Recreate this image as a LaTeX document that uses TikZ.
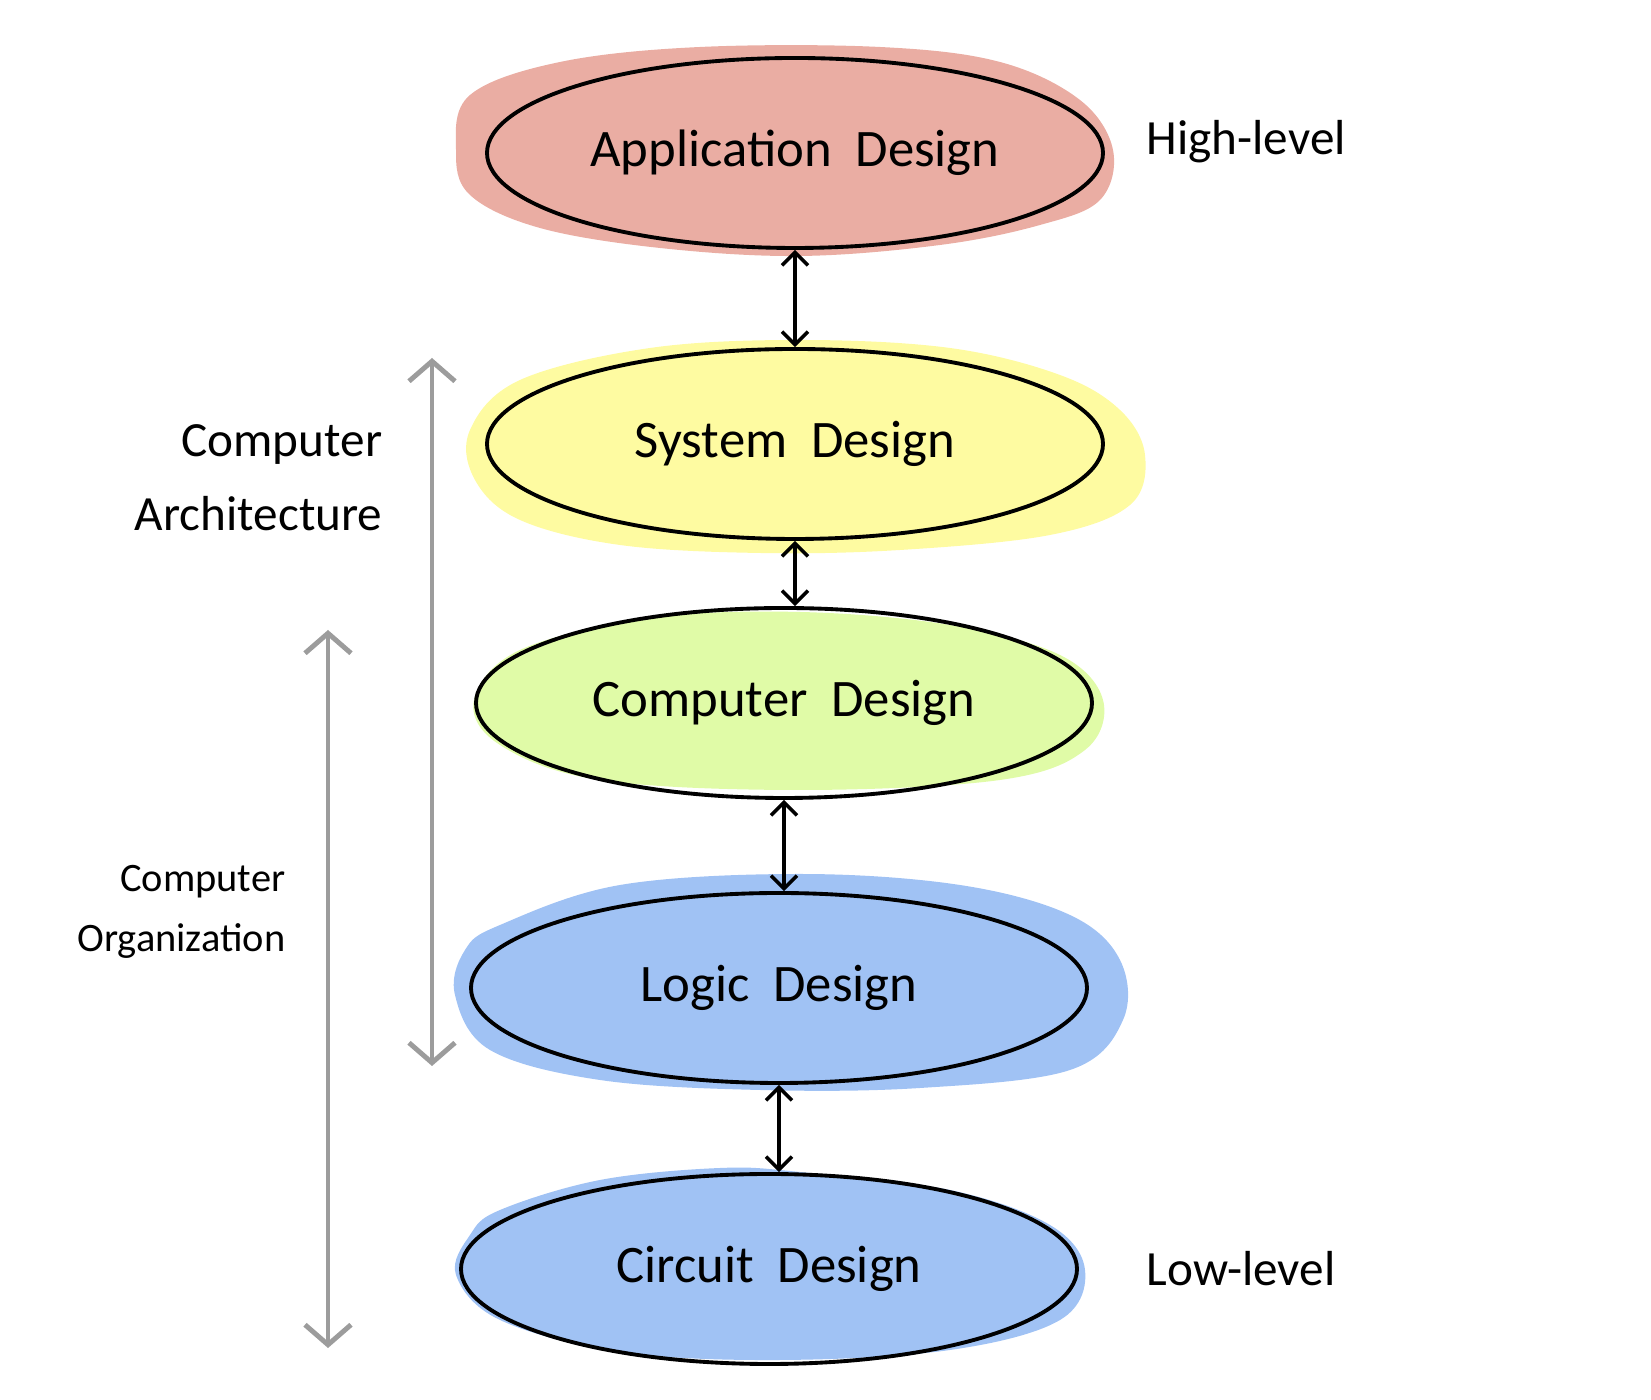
\documentclass[tikz,border=0pt]{standalone}
\usepackage{fontspec}
\setmainfont{Carlito}
\usetikzlibrary{shapes.geometric,arrows.meta}

\definecolor{salmon}{HTML}{EAADA3}
\definecolor{lemon}{HTML}{FEFBA1}
\definecolor{lime}{HTML}{E0FBA7}
\definecolor{sky}{HTML}{A0C2F4}
\definecolor{arrgray}{HTML}{9C9C9C}

\newcommand{\en}{\node[ellipse, draw, line width=1.1pt, minimum width=6.16cm, minimum height=1.9cm, inner sep=0pt, font=\fontsize{15}{18}\selectfont]}
\newcommand{\sn}{\node[inner sep=0pt, font=\fontsize{14}{21}\selectfont]}
\newcommand{\blob}[2]{\fill[#1] plot[smooth cycle, tension=0.6] coordinates {#2};}

\begin{document}
\begin{tikzpicture}[
    blk/.style={{Straight Barb[length=1.3mm,width=2.6mm]}-{Straight Barb[length=1.3mm,width=2.6mm]}, line width=1pt},
    gry/.style={{Straight Barb[length=2mm,width=4.6mm]}-{Straight Barb[length=2mm,width=4.6mm]}, line width=1.4pt, draw=arrgray}
  ]
            \useasboundingbox (0,0) rectangle (16.51,14);

            % colour patches behind the ellipses
            \blob{salmon}{(4.70,13.05) (5.60,13.38) (7.00,13.53) (8.80,13.53) (10.00,13.38) (10.80,13.00) (11.13,12.50) (11.00,12.00) (10.40,11.75) (9.40,11.55) (8.00,11.44) (6.60,11.52) (5.40,11.72) (4.70,12.05) (4.56,12.50)}
            \blob{lemon}{(5.20,10.20) (6.50,10.52) (8.00,10.60) (9.50,10.52) (10.60,10.25) (11.20,9.90) (11.45,9.45) (11.30,8.95) (10.50,8.65) (9.00,8.50) (7.60,8.47) (6.20,8.55) (5.20,8.80) (4.75,9.20) (4.70,9.70)}
            \blob{lime}{(5.20,7.50) (6.50,7.82) (8.00,7.88) (9.50,7.75) (10.60,7.45) (11.03,7.00) (10.85,6.50) (10.00,6.20) (8.00,6.10) (6.00,6.20) (5.00,6.55) (4.74,7.00)}
            \blob{sky}{(5.00,4.75) (6.20,5.15) (8.00,5.26) (9.60,5.15) (10.70,4.85) (11.20,4.40) (11.23,3.80) (10.70,3.30) (9.20,3.12) (7.60,3.10) (6.00,3.20) (4.90,3.50) (4.55,4.05) (4.65,4.50)}
            \blob{sky}{(5.00,1.90) (6.00,2.20) (7.20,2.32) (8.00,2.28) (9.50,2.10) (10.50,1.75) (10.85,1.30) (10.60,0.80) (9.50,0.50) (7.80,0.40) (6.20,0.48) (5.00,0.80) (4.56,1.25) (4.70,1.65)}

            \en (e1) at (7.95, 12.47) {Application\ \ Design};
            \en (e2) at (7.95, 9.56) {System\ \ Design};
            \en (e3) at (7.84, 6.97) {Computer\ \ Design};
            \en (e4) at (7.79, 4.12) {Logic\ \ Design};
            \en (e5) at (7.69, 1.31) {Circuit\ \ Design};

            \sn[anchor=west] (hi) at (11.46, 12.58) {High-level};
            \sn[anchor=west] (lo) at (11.46, 1.31) {Low-level};
            \sn[anchor=east, align=right] (arch) at (3.83, 9.22) {Computer\\Architecture};
            \sn[anchor=east, align=right, font=\fontsize{11.5}{17}\selectfont] (org) at (2.86, 4.88) {Computer\\Organization};

            \coordinate (archtop) at (4.32, 10.42);
            \coordinate (archbot) at (4.32, 3.34);
            \coordinate (orgtop) at (3.28, 7.70);
            \coordinate (orgbot) at (3.28, 0.52);

            \draw[blk] (e1.south) -- (e2.north);
            \draw[blk] (e2.south) -- (e2.south |- e3.north);
            \draw[blk] (e3.south) -- (e3.south |- e4.north);
            \draw[blk] (e4.south) -- (e4.south |- e5.north);

            \draw[gry] (archtop) -- (archbot);
            \draw[gry] (orgtop) -- (orgbot);
\end{tikzpicture}
\end{document}
